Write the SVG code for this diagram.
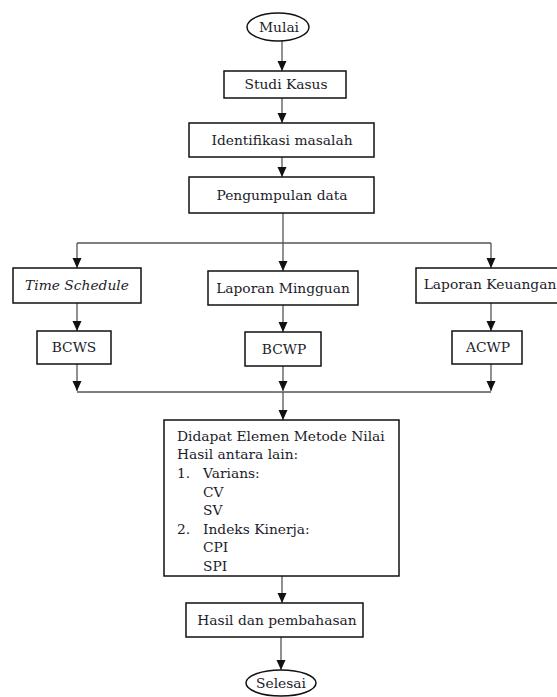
<svg xmlns="http://www.w3.org/2000/svg" width="557" height="697" viewBox="0 0 557 697">
<style>
.box{fill:#fff;stroke:#111;stroke-width:1.5}
.t{font-family:"DejaVu Serif","Liberation Serif",serif;font-size:13.8px;fill:#1c1c2a}
.c{text-anchor:middle}
.ln{stroke:#555;stroke-width:1.3;fill:none}
</style>
<defs>
<marker id="ah" markerUnits="userSpaceOnUse" markerWidth="10" markerHeight="10" viewBox="0 0 10 10" refX="10" refY="5" orient="auto">
<path d="M0,0.5 L10,5 L0,9.5 Z" fill="#111"/>
</marker>
</defs>
<g id="connectors">
<line class="ln" x1="282" y1="41" x2="282" y2="71" marker-end="url(#ah)"/>
<line class="ln" x1="282" y1="98" x2="282" y2="123" marker-end="url(#ah)"/>
<line class="ln" x1="282" y1="157" x2="282" y2="177" marker-end="url(#ah)"/>
<line class="ln" x1="283" y1="213" x2="283" y2="243"/>
<line class="ln" x1="77" y1="243" x2="491" y2="243"/>
<line class="ln" x1="77" y1="243" x2="77" y2="268" marker-end="url(#ah)"/>
<line class="ln" x1="283" y1="243" x2="283" y2="271" marker-end="url(#ah)"/>
<line class="ln" x1="491" y1="243" x2="491" y2="268" marker-end="url(#ah)"/>
<line class="ln" x1="77" y1="303" x2="77" y2="331" marker-end="url(#ah)"/>
<line class="ln" x1="283" y1="305" x2="283" y2="332" marker-end="url(#ah)"/>
<line class="ln" x1="491" y1="303" x2="491" y2="331" marker-end="url(#ah)"/>
<line class="ln" x1="77" y1="364" x2="77" y2="391" marker-end="url(#ah)"/>
<line class="ln" x1="283" y1="366" x2="283" y2="391" marker-end="url(#ah)"/>
<line class="ln" x1="491" y1="364" x2="491" y2="391" marker-end="url(#ah)"/>
<line class="ln" x1="77" y1="392" x2="491" y2="392"/>
<line class="ln" x1="283" y1="392" x2="283" y2="420" marker-end="url(#ah)"/>
<line class="ln" x1="282" y1="576" x2="282" y2="603" marker-end="url(#ah)"/>
<line class="ln" x1="281" y1="637" x2="281" y2="670" marker-end="url(#ah)"/>
</g>
<g id="mulai">
<ellipse class="box" cx="278" cy="27" rx="31" ry="14"/>
<text class="t c" x="279" y="32">Mulai</text>
</g>
<g id="studi-kasus">
<rect class="box" x="224" y="71" width="122" height="27"/>
<text class="t c" x="286" y="89">Studi Kasus</text>
</g>
<g id="identifikasi">
<rect class="box" x="189" y="123" width="185" height="34"/>
<text class="t c" x="282" y="145">Identifikasi masalah</text>
</g>
<g id="pengumpulan">
<rect class="box" x="189" y="177" width="185" height="36"/>
<text class="t c" x="282" y="200">Pengumpulan data</text>
</g>
<g id="time-schedule">
<rect class="box" x="13" y="268" width="128" height="35"/>
<text class="t c" x="77" y="290" font-style="italic" font-size="13px">Time Schedule</text>
</g>
<g id="laporan-mingguan">
<rect class="box" x="208" y="271" width="150" height="34"/>
<text class="t c" x="283" y="293">Laporan Mingguan</text>
</g>
<g id="laporan-keuangan">
<rect class="box" x="416" y="268" width="142" height="35"/>
<text class="t c" x="490" y="289">Laporan Keuangan</text>
</g>
<g id="bcws">
<rect class="box" x="37" y="331" width="74" height="33"/>
<text class="t c" x="74" y="352">BCWS</text>
</g>
<g id="bcwp">
<rect class="box" x="245" y="332" width="76" height="34"/>
<text class="t c" x="284" y="354">BCWP</text>
</g>
<g id="acwp">
<rect class="box" x="452" y="331" width="70" height="33"/>
<text class="t c" x="488" y="352">ACWP</text>
</g>
<g id="hasil-elemen">
<rect class="box" x="164" y="420" width="235" height="156"/>
<text class="t" x="177" y="441">Didapat Elemen Metode Nilai</text>
<text class="t" x="177" y="459">Hasil antara lain:</text>
<text class="t" x="177" y="478">1.</text>
<text class="t" x="203" y="478">Varians:</text>
<text class="t" x="203" y="497">CV</text>
<text class="t" x="203" y="515">SV</text>
<text class="t" x="177" y="534">2.</text>
<text class="t" x="203" y="534">Indeks Kinerja:</text>
<text class="t" x="203" y="552">CPI</text>
<text class="t" x="203" y="571">SPI</text>
</g>
<g id="hasil-pembahasan">
<rect class="box" x="186" y="603" width="177" height="34"/>
<text class="t c" x="277" y="625">Hasil dan pembahasan</text>
</g>
<g id="selesai">
<ellipse class="box" cx="281" cy="683" rx="35" ry="13"/>
<text class="t c" x="281" y="688">Selesai</text>
</g>
</svg>
